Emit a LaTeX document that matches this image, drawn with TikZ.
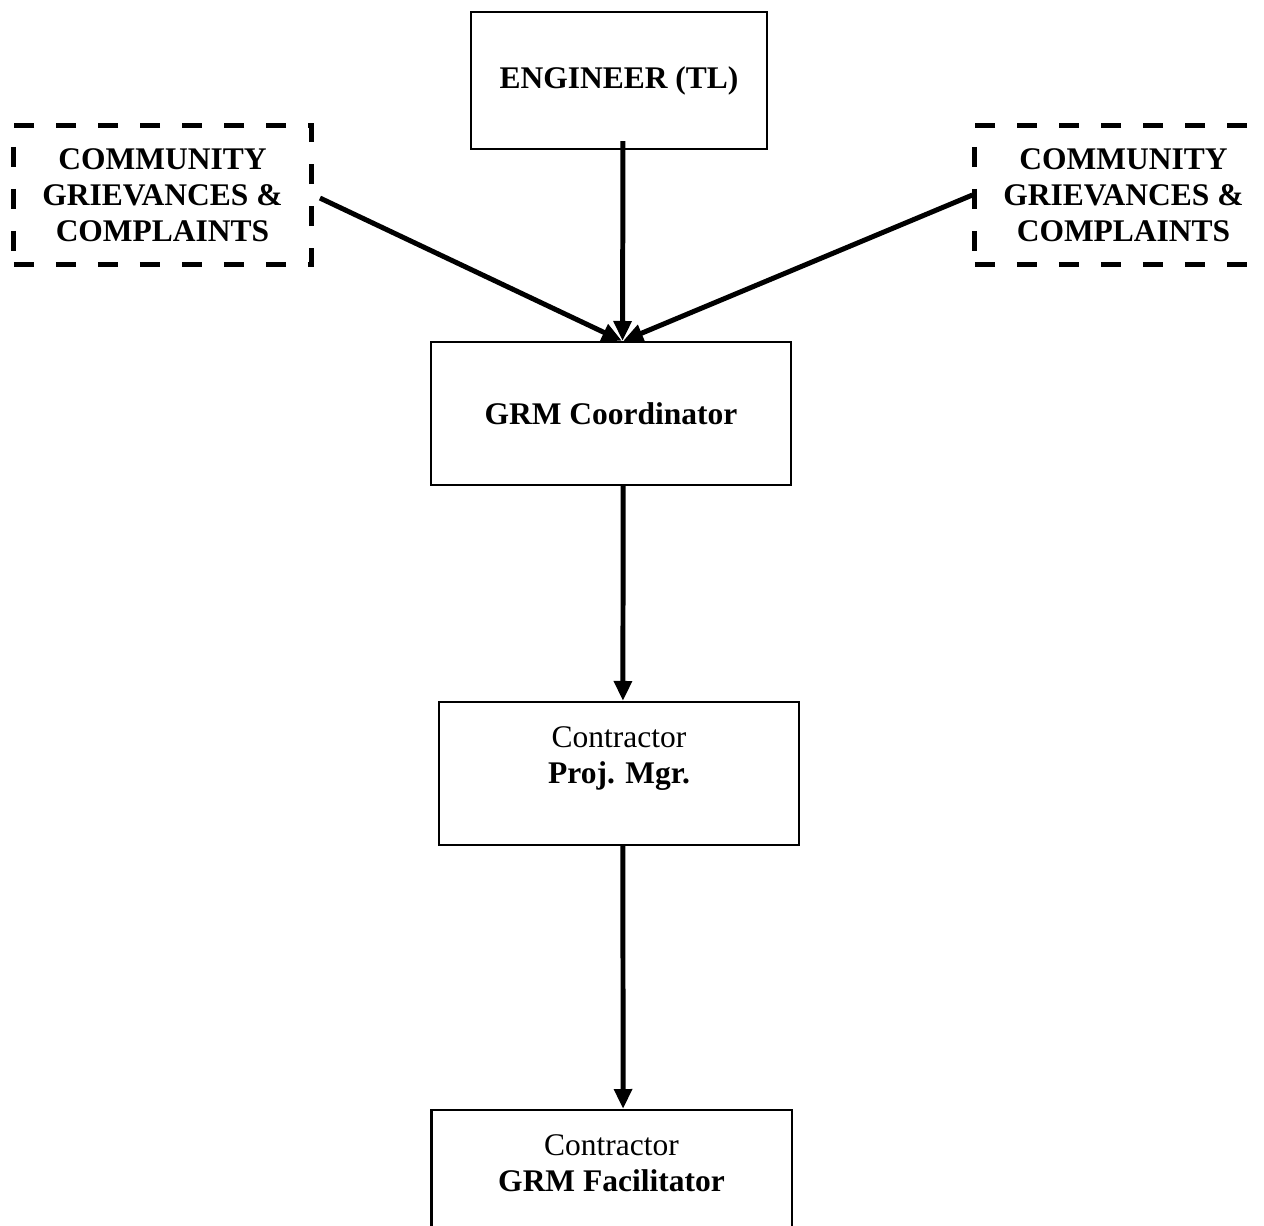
\documentclass[tikz,border=0pt]{standalone}
\usepackage{fontspec}
\setmainfont{Liberation Serif}
\usetikzlibrary{positioning,arrows.meta}

\begin{document}
\begin{tikzpicture}[x=0.381pt,y=-0.381pt,
  box/.style={draw,rectangle,line width=0.8pt,inner sep=0pt,align=center,
    font=\fontsize{12}{13.8}\selectfont},
  dbox/.style={box,line width=1.9pt,dash pattern=on 7.6pt off 8.4pt,
    minimum width=113.2pt,minimum height=53.3pt},
  arr/.style={line width=1.9pt,-{Triangle[length=7.6pt,width=6.6pt]}}]

\useasboundingbox (0,0) rectangle (1264,1225);

\node[box,minimum width=112.8pt,minimum height=52.2pt] (1) at (619,80.5) {\textbf{ENGINEER (TL)}};
\node[dbox] (2) at (162.5,195) {\textbf{COMMUNITY}\\\textbf{GRIEVANCES \&}\\\textbf{COMPLAINTS}};
\node[dbox] (3) at (1123.5,195) {\textbf{COMMUNITY}\\\textbf{GRIEVANCES \&}\\\textbf{COMPLAINTS}};

\node[box,minimum width=137.2pt,minimum height=54.5pt] (4) at (611,413.5) {\textbf{GRM Coordinator}};
\node[box,minimum width=137.2pt,minimum height=54.5pt] (5) at (619,773.5) {Contractor\\\textbf{Proj. Mgr.}\\\mbox{}};
\node[box,minimum width=137.2pt,minimum height=54.5pt] (6) at (611.5,1181.5) {Contractor\\\textbf{GRM Facilitator}\\\mbox{}};

\path[arr]
([xshift=1.5pt]1.south) edge[shorten <=-3.4pt] ([xshift=4.4pt]4.north)
(2.east) edge[shorten <=2.7pt] ([xshift=4.2pt]4.north)
(3.west) edge ([xshift=4.6pt]4.north);

\path[arr]
([xshift=4.6pt]4.south) edge ([xshift=1.5pt]5.north)
([xshift=1.5pt]5.south) edge ([xshift=4.4pt]6.north);

\end{tikzpicture}
\end{document}
